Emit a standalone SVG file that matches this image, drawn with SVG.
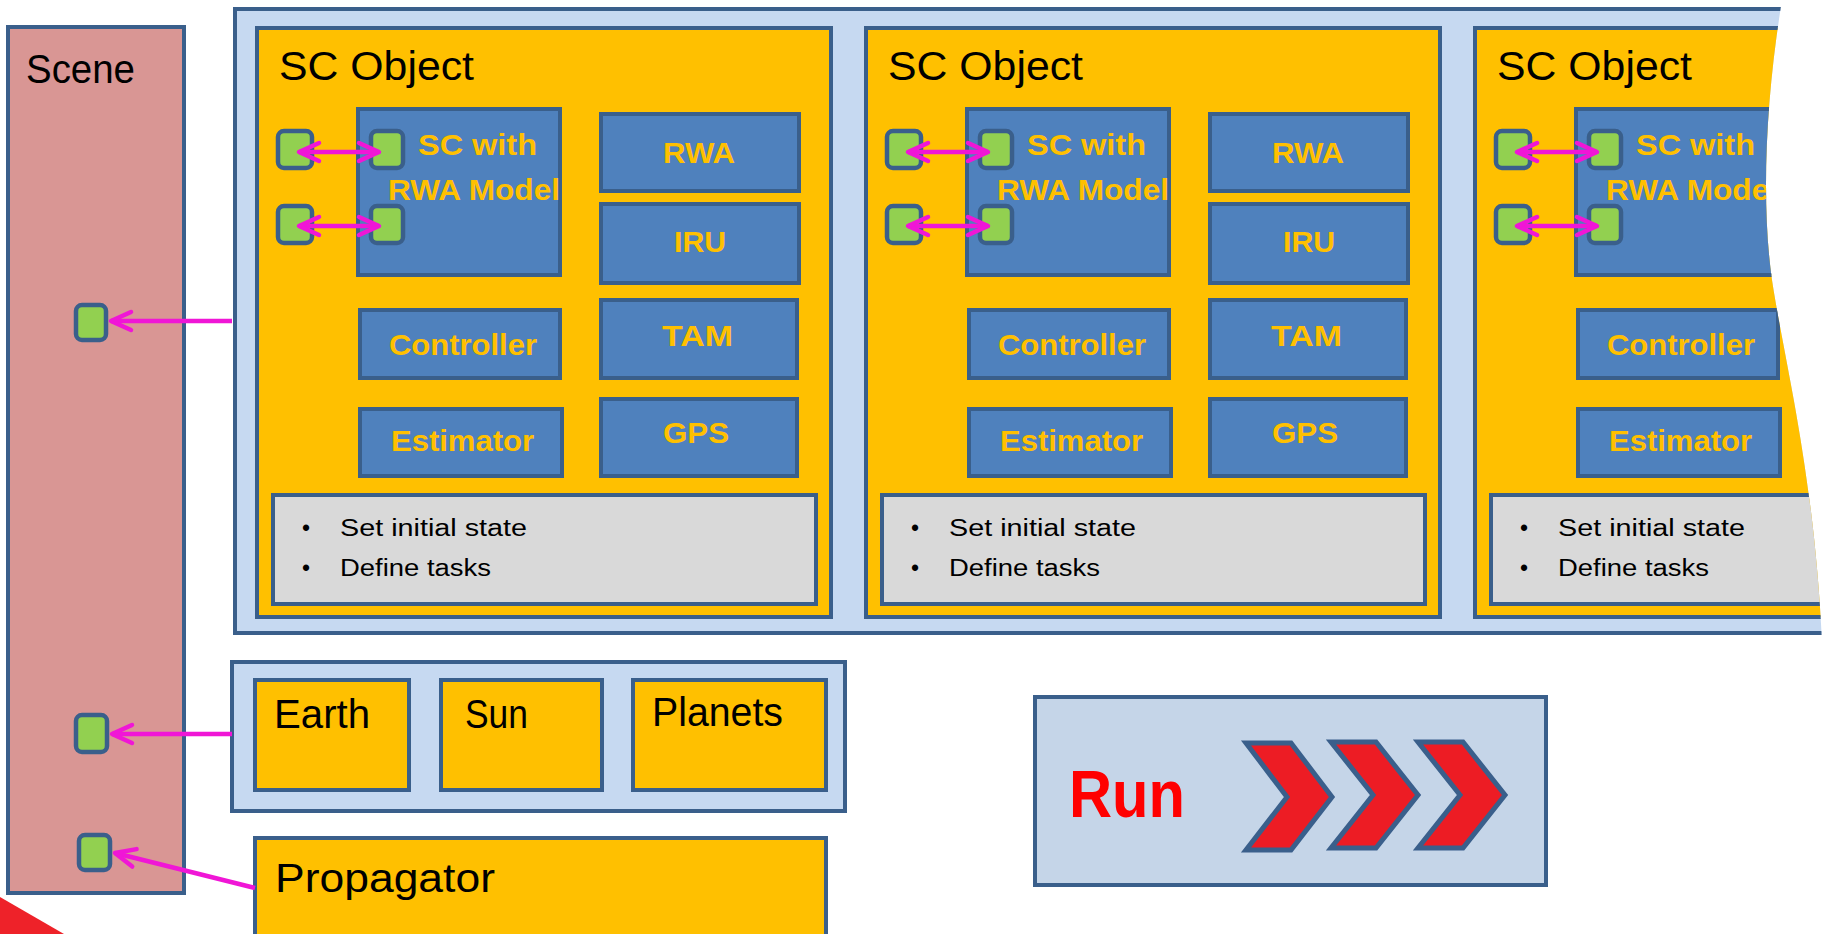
<svg xmlns="http://www.w3.org/2000/svg" width="1824" height="934" viewBox="0 0 1824 934">
  <style>
    .edge { stroke: #3a5f8b; stroke-width: 4; }
    .frame { fill: #c6d9f1; }
    .scene { fill: #d99694; }
    .obj { fill: #ffc000; }
    .blk { fill: #4f81bd; }
    .note { fill: #d9d9d9; }
    .port { fill: #92d050; stroke: #3a5f8b; stroke-width: 4.5; }
    .title { font-family: "Liberation Sans", Arial, sans-serif; font-size: 40px; fill: #000; }
    .lbl { font-family: "Liberation Sans", Arial, sans-serif; font-size: 30px; font-weight: bold; fill: #ffc000; }
    .bul { font-family: "Liberation Sans", Arial, sans-serif; font-size: 23px; fill: #000; }
    .run { font-family: "Liberation Sans", Arial, sans-serif; font-size: 66px; font-weight: bold; fill: #ff0000; }
    .link { stroke: #f016d6; stroke-width: 4.5; fill: none; }
    .chev { fill: #ed1c24; stroke: #3a5f8b; stroke-width: 5; stroke-linejoin: miter; }
  </style>
  <defs>
    <marker id="head" viewBox="-26 -13 30 26" refX="0" refY="0" markerWidth="30" markerHeight="26" markerUnits="userSpaceOnUse" orient="auto-start-reverse">
      <path d="M-20,-9 L0,0 L-20,9" fill="none" stroke="#f016d6" stroke-width="4.5" stroke-linecap="round" stroke-linejoin="round"/>
    </marker>
    <!-- torn right edge of the spacecraft frame -->
    <clipPath id="tear">
      <path d="M0,0 H1782 C1764,110 1762,210 1772,280 C1784,360 1814,470 1822,642 L0,642 Z"/>
    </clipPath>
    <!-- label area inside the SC model block -->
    <clipPath id="scbox" clipPathUnits="userSpaceOnUse">
      <rect x="358" y="109" width="203" height="166"/>
    </clipPath>
  </defs>

  <!-- corner accent -->
  <polygon points="0,897 64,934 0,934" fill="#ee2229"/>

  <g id="scene">
    <rect class="scene edge" x="8" y="27" width="176" height="866"/>
    <text class="title" x="26" y="83" textLength="109" lengthAdjust="spacingAndGlyphs">Scene</text>
    <rect id="scene-port-1" class="port" x="76" y="305" width="30" height="35" rx="6"/>
    <rect id="scene-port-2" class="port" x="76" y="715" width="31" height="37" rx="6"/>
    <rect id="scene-port-3" class="port" x="79" y="835" width="31" height="35" rx="6"/>
  </g>

  <g id="spacecraft-frame" clip-path="url(#tear)">
    <rect class="frame edge" x="235" y="9" width="1640" height="624"/>

    <g id="sc-object-1">
      <rect class="obj edge" x="257" y="28" width="574" height="589"/>
      <text class="title" x="279" y="80" textLength="195" lengthAdjust="spacingAndGlyphs">SC Object</text>
      <g id="sc-model-1">
        <rect class="blk edge" x="358" y="109" width="202" height="166"/>
        <g clip-path="url(#scbox)">
          <text class="lbl" x="418" y="155" textLength="119" lengthAdjust="spacingAndGlyphs">SC with</text>
          <text class="lbl" x="388" y="200" textLength="172" lengthAdjust="spacingAndGlyphs">RWA Model</text>
        </g>
      </g>
      <rect class="port" x="278" y="131" width="34" height="37" rx="6"/>
      <rect class="port" x="371" y="131" width="32" height="37" rx="6"/>
      <rect class="port" x="278" y="206" width="34" height="37" rx="6"/>
      <rect class="port" x="371" y="206" width="32" height="37" rx="6"/>
      <g id="rwa-1"><rect class="blk edge" x="601" y="114" width="198" height="77"/><text class="lbl" x="663" y="163" textLength="72" lengthAdjust="spacingAndGlyphs">RWA</text></g>
      <g id="iru-1"><rect class="blk edge" x="601" y="204" width="198" height="79"/><text class="lbl" x="674" y="252" textLength="52" lengthAdjust="spacingAndGlyphs">IRU</text></g>
      <g id="tam-1"><rect class="blk edge" x="601" y="300" width="196" height="78"/><text class="lbl" x="662" y="346" textLength="71" lengthAdjust="spacingAndGlyphs">TAM</text></g>
      <g id="gps-1"><rect class="blk edge" x="601" y="399" width="196" height="77"/><text class="lbl" x="663" y="443" textLength="66" lengthAdjust="spacingAndGlyphs">GPS</text></g>
      <g id="controller-1"><rect class="blk edge" x="360" y="310" width="200" height="68"/><text class="lbl" x="389" y="355" textLength="148" lengthAdjust="spacingAndGlyphs">Controller</text></g>
      <g id="estimator-1"><rect class="blk edge" x="360" y="409" width="202" height="67"/><text class="lbl" x="391" y="451" textLength="143" lengthAdjust="spacingAndGlyphs">Estimator</text></g>
      <g id="setup-1">
        <rect class="note edge" x="273" y="495" width="543" height="109"/>
        <text class="bul" x="302" y="536">•</text>
        <text class="bul" x="340" y="536" textLength="187" lengthAdjust="spacingAndGlyphs">Set initial state</text>
        <text class="bul" x="302" y="576">•</text>
        <text class="bul" x="340" y="576" textLength="151" lengthAdjust="spacingAndGlyphs">Define tasks</text>
      </g>
    </g>

    <g id="sc-object-2" transform="translate(609,0)">
      <rect class="obj edge" x="257" y="28" width="574" height="589"/>
      <text class="title" x="279" y="80" textLength="195" lengthAdjust="spacingAndGlyphs">SC Object</text>
      <g id="sc-model-2">
        <rect class="blk edge" x="358" y="109" width="202" height="166"/>
        <g clip-path="url(#scbox)">
          <text class="lbl" x="418" y="155" textLength="119" lengthAdjust="spacingAndGlyphs">SC with</text>
          <text class="lbl" x="388" y="200" textLength="172" lengthAdjust="spacingAndGlyphs">RWA Model</text>
        </g>
      </g>
      <rect class="port" x="278" y="131" width="34" height="37" rx="6"/>
      <rect class="port" x="371" y="131" width="32" height="37" rx="6"/>
      <rect class="port" x="278" y="206" width="34" height="37" rx="6"/>
      <rect class="port" x="371" y="206" width="32" height="37" rx="6"/>
      <g id="rwa-2"><rect class="blk edge" x="601" y="114" width="198" height="77"/><text class="lbl" x="663" y="163" textLength="72" lengthAdjust="spacingAndGlyphs">RWA</text></g>
      <g id="iru-2"><rect class="blk edge" x="601" y="204" width="198" height="79"/><text class="lbl" x="674" y="252" textLength="52" lengthAdjust="spacingAndGlyphs">IRU</text></g>
      <g id="tam-2"><rect class="blk edge" x="601" y="300" width="196" height="78"/><text class="lbl" x="662" y="346" textLength="71" lengthAdjust="spacingAndGlyphs">TAM</text></g>
      <g id="gps-2"><rect class="blk edge" x="601" y="399" width="196" height="77"/><text class="lbl" x="663" y="443" textLength="66" lengthAdjust="spacingAndGlyphs">GPS</text></g>
      <g id="controller-2"><rect class="blk edge" x="360" y="310" width="200" height="68"/><text class="lbl" x="389" y="355" textLength="148" lengthAdjust="spacingAndGlyphs">Controller</text></g>
      <g id="estimator-2"><rect class="blk edge" x="360" y="409" width="202" height="67"/><text class="lbl" x="391" y="451" textLength="143" lengthAdjust="spacingAndGlyphs">Estimator</text></g>
      <g id="setup-2">
        <rect class="note edge" x="273" y="495" width="543" height="109"/>
        <text class="bul" x="302" y="536">•</text>
        <text class="bul" x="340" y="536" textLength="187" lengthAdjust="spacingAndGlyphs">Set initial state</text>
        <text class="bul" x="302" y="576">•</text>
        <text class="bul" x="340" y="576" textLength="151" lengthAdjust="spacingAndGlyphs">Define tasks</text>
      </g>
    </g>

    <g id="sc-object-3" transform="translate(1218,0)">
      <rect class="obj edge" x="257" y="28" width="574" height="589"/>
      <text class="title" x="279" y="80" textLength="195" lengthAdjust="spacingAndGlyphs">SC Object</text>
      <g id="sc-model-3">
        <rect class="blk edge" x="358" y="109" width="202" height="166"/>
        <g clip-path="url(#scbox)">
          <text class="lbl" x="418" y="155" textLength="119" lengthAdjust="spacingAndGlyphs">SC with</text>
          <text class="lbl" x="388" y="200" textLength="172" lengthAdjust="spacingAndGlyphs">RWA Model</text>
        </g>
      </g>
      <rect class="port" x="278" y="131" width="34" height="37" rx="6"/>
      <rect class="port" x="371" y="131" width="32" height="37" rx="6"/>
      <rect class="port" x="278" y="206" width="34" height="37" rx="6"/>
      <rect class="port" x="371" y="206" width="32" height="37" rx="6"/>
      <g id="controller-3"><rect class="blk edge" x="360" y="310" width="200" height="68"/><text class="lbl" x="389" y="355" textLength="148" lengthAdjust="spacingAndGlyphs">Controller</text></g>
      <g id="estimator-3"><rect class="blk edge" x="360" y="409" width="202" height="67"/><text class="lbl" x="391" y="451" textLength="143" lengthAdjust="spacingAndGlyphs">Estimator</text></g>
      <g id="setup-3">
        <rect class="note edge" x="273" y="495" width="543" height="109"/>
        <text class="bul" x="302" y="536">•</text>
        <text class="bul" x="340" y="536" textLength="187" lengthAdjust="spacingAndGlyphs">Set initial state</text>
        <text class="bul" x="302" y="576">•</text>
        <text class="bul" x="340" y="576" textLength="151" lengthAdjust="spacingAndGlyphs">Define tasks</text>
      </g>
    </g>
  </g>

  <g id="bodies">
    <rect class="frame edge" x="232" y="662" width="613" height="149"/>
    <g id="earth"><rect class="obj edge" x="255" y="680" width="154" height="110"/><text class="title" x="274" y="728" textLength="96" lengthAdjust="spacingAndGlyphs">Earth</text></g>
    <g id="sun"><rect class="obj edge" x="441" y="680" width="161" height="110"/><text class="title" x="465" y="728" textLength="63" lengthAdjust="spacingAndGlyphs">Sun</text></g>
    <g id="planets"><rect class="obj edge" x="633" y="680" width="193" height="110"/><text class="title" x="652" y="726" textLength="131" lengthAdjust="spacingAndGlyphs">Planets</text></g>
  </g>

  <g id="propagator">
    <rect class="obj edge" x="255" y="838" width="571" height="110"/>
    <text class="title" x="275" y="892" textLength="220" lengthAdjust="spacingAndGlyphs">Propagator</text>
  </g>

  <g id="run">
    <rect x="1035" y="697" width="511" height="188" fill="#c5d5e8" class="edge"/>
    <text class="run" x="1069" y="817" textLength="116" lengthAdjust="spacingAndGlyphs">Run</text>
    <polygon class="chev" points="1246,743 1291,743 1332,797 1291,850 1246,850 1287,797"/>
    <polygon class="chev" points="1331,742 1376,742 1418,795 1376,848 1331,848 1373,795"/>
    <polygon class="chev" points="1418,742 1463,742 1505,795 1463,848 1418,848 1460,795"/>
  </g>

  <g id="connectors">
    <line class="link" x1="232" y1="321" x2="111" y2="321" marker-end="url(#head)"/>
    <line class="link" x1="232" y1="734" x2="112" y2="734" marker-end="url(#head)"/>
    <line class="link" x1="255" y1="888" x2="115" y2="853" marker-end="url(#head)"/>

    <line class="link" x1="299" y1="152" x2="379" y2="152" marker-start="url(#head)" marker-end="url(#head)"/>
    <line class="link" x1="299" y1="226" x2="379" y2="226" marker-start="url(#head)" marker-end="url(#head)"/>
    <line class="link" x1="908" y1="152" x2="988" y2="152" marker-start="url(#head)" marker-end="url(#head)"/>
    <line class="link" x1="908" y1="226" x2="988" y2="226" marker-start="url(#head)" marker-end="url(#head)"/>
    <line class="link" x1="1517" y1="152" x2="1597" y2="152" marker-start="url(#head)" marker-end="url(#head)"/>
    <line class="link" x1="1517" y1="226" x2="1597" y2="226" marker-start="url(#head)" marker-end="url(#head)"/>
  </g>
</svg>
